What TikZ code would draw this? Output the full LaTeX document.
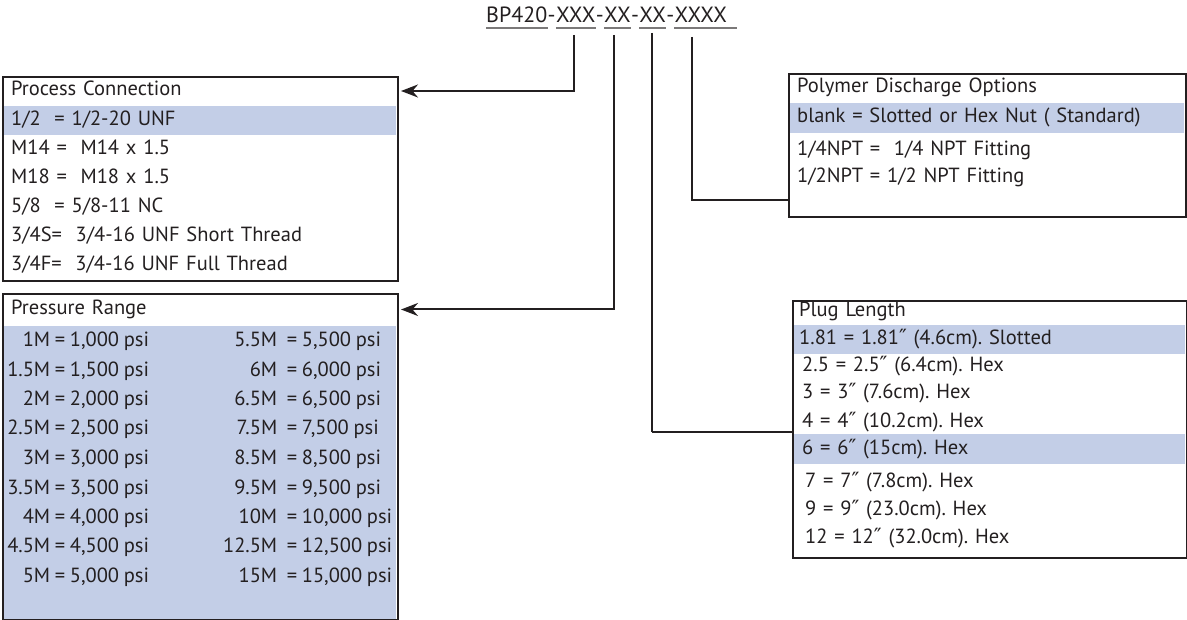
\documentclass[tikz,border=0pt]{standalone}
\usepackage{fontspec}
\setmainfont{PT Sans}[WordSpace=0.85]
\newfontfamily\plugfont{PT Sans}[WordSpace=0.6]
\newfontfamily\markfont{DejaVu Sans}
\usetikzlibrary{arrows.meta,positioning}
\definecolor{ink}{HTML}{231F20}
\definecolor{rowblue}{HTML}{C3CEE7}
\frenchspacing
\newcommand{\pval}[4][0pt]{\makebox[#2][r]{#3}\hspace{#1} = #4}
\newcommand{\inch}{{\markfont\fontsize{21}{24}\selectfont ″}}
\tikzset{
  listframe/.style={draw=ink,line width=2pt,anchor=north west,inner sep=0pt},
  listrow/.style={anchor=west,inner xsep=8pt,inner ysep=0pt,minimum height=29pt,
    text width=#1,align=left,text height=14pt,text depth=4pt,
    font=\fontsize{20.5}{24}\selectfont,text=ink},
  plugrow/.style={listrow=380pt,inner xsep=6pt,font=\plugfont\fontsize{20.5}{24}\selectfont},
  hirow/.style={fill=rowblue},
  prentry/.style={anchor=west,inner sep=0pt,text height=14pt,text depth=4pt,
    font=\fontsize{20.5}{24}\selectfont,text=ink},
  codepart/.style={inner sep=0pt,font=\fontsize{22}{26}\selectfont,text=ink},
  uline/.style={draw=ink!60,line width=1.2pt},
  feed/.style={draw=ink,line width=2pt,-{Stealth[length=17pt,width=13pt]},shorten >=2pt},
  lead/.style={draw=ink,line width=1.2pt}
}
\begin{document}
\begin{tikzpicture}[x=1pt,y=-1pt]
    \useasboundingbox (0,0) rectangle (1187,620);
    % part number
    \node[codepart,anchor=base west] (bp) at (486,23) {BP420};
    \node[codepart,base right=0pt of bp] (d1) {-};
    \node[codepart,base right=0pt of d1] (xa) {XXX};
    \node[codepart,base right=0pt of xa] (d2) {-};
    \node[codepart,base right=0pt of d2] (xb) {XX};
    \node[codepart,base right=0pt of xb] (d3) {-};
    \node[codepart,base right=0pt of d3] (xc) {XX};
    \node[codepart,base right=0pt of xc] (d4) {-};
    \node[codepart,base right=0pt of d4] (xd) {XXXX};
    \draw[uline] ([yshift=-5pt]bp.base west) -- ([yshift=-5pt]bp.base east);
    \draw[uline] ([yshift=-5pt]xa.base west) -- ([yshift=-5pt]xa.base east);
    \draw[uline] ([yshift=-5pt]xb.base west) -- ([yshift=-5pt]xb.base east);
    \draw[uline] ([yshift=-5pt]xc.base west) -- ([yshift=-5pt]xc.base east);
    \draw[uline] ([yshift=-5pt]xd.base west) -- ([shift={(10pt,-5pt)}]xd.base east);

    % process connection
    \node[listrow=377pt] (connhead) at (3,91) {Process Connection};
    \node[listrow=377pt,hirow] (conn1) at (3,120.5) {1/2\ \ = 1/2-20 UNF};
    \node[listrow=377pt] (conn2) at (3,149.5) {M14 =\ \ M14 x 1.5};
    \node[listrow=377pt] (conn3) at (3,178.5) {M18 =\ \ M18 x 1.5};
    \node[listrow=377pt] (conn4) at (3,207.5) {5/8\ \ = 5/8-11 NC};
    \node[listrow=377pt] (conn5) at (3,236.5) {3/4S=\ \ 3/4-16 UNF Short Thread};
    \node[listrow=377pt] (conn6) at (3,265.5) {3/4F=\ \ 3/4-16 UNF Full Thread};
    \node[listframe,minimum width=395pt,minimum height=204pt] (conn) at (2,76) {};

    % pressure range
    \node[fill=rowblue,anchor=north west,inner sep=0pt,minimum width=393pt,minimum height=293pt] (pressbody) at (3,326) {};
    \node[listrow=377pt,minimum height=33pt] (presshead) at (3,309.5) {Pressure Range};
    \node[prentry] (pa1) at (6,342) {\pval{44pt}{1M}{1,000 psi}};
    \node[prentry] (pa2) at (6,371.5) {\pval{44pt}{1.5M}{1,500 psi}};
    \node[prentry] (pa3) at (6,401) {\pval{44pt}{2M}{2,000 psi}};
    \node[prentry] (pa4) at (6,430) {\pval{44pt}{2.5M}{2,500 psi}};
    \node[prentry] (pa5) at (6,459.5) {\pval{44pt}{3M}{3,000 psi}};
    \node[prentry] (pa6) at (6,489) {\pval{44pt}{3.5M}{3,500 psi}};
    \node[prentry] (pa7) at (6,518) {\pval{44pt}{4M}{4,000 psi}};
    \node[prentry] (pa8) at (6,547.5) {\pval{44pt}{4.5M}{4,500 psi}};
    \node[prentry] (pa9) at (6,577) {\pval{44pt}{5M}{5,000 psi}};
    \node[prentry] (pb1) at (217,342) {\pval[5pt]{60pt}{5.5M}{5,500 psi}};
    \node[prentry] (pb2) at (217,371.5) {\pval[5pt]{60pt}{6M}{6,000 psi}};
    \node[prentry] (pb3) at (217,401) {\pval[5pt]{60pt}{6.5M}{6,500 psi}};
    \node[prentry] (pb4) at (217,430) {\pval[5pt]{60pt}{7.5M}{7,500 psi}};
    \node[prentry] (pb5) at (217,459.5) {\pval[5pt]{60pt}{8.5M}{8,500 psi}};
    \node[prentry] (pb6) at (217,489) {\pval[5pt]{60pt}{9.5M}{9,500 psi}};
    \node[prentry] (pb7) at (217,518) {\pval[5pt]{60pt}{10M}{10,000 psi}};
    \node[prentry] (pb8) at (217,547.5) {\pval[5pt]{60pt}{12.5M}{12,500 psi}};
    \node[prentry] (pb9) at (217,577) {\pval[5pt]{60pt}{15M}{15,000 psi}};
    \node[listframe,minimum width=395pt,minimum height=326pt] (press) at (2,293) {};

    % polymer discharge
    \node[listrow=379pt] (polyhead) at (789,88) {Polymer Discharge Options};
    \node[listrow=379pt,hirow,minimum height=30pt] (poly1) at (789,118) {blank = Slotted or Hex Nut ( Standard)};
    \node[listrow=379pt] (poly2) at (789,151) {1/4NPT =\ \ 1/4 NPT Fitting};
    \node[listrow=379pt] (poly3) at (789,178) {1/2NPT = 1/2 NPT Fitting};
    \node[listframe,minimum width=397pt,minimum height=143pt] (poly) at (788,73) {};

    % plug length
    \node[plugrow] (plughead) at (793,312) {Plug Length};
    \node[plugrow,hirow] (plug1) at (793,339.5) {1.81 = 1.81\inch\ (4.6cm). Slotted};
    \node[plugrow] (plug2) at (793,367) {\hspace*{3pt}2.5 = 2.5\inch\ (6.4cm). Hex};
    \node[plugrow] (plug3) at (793,394) {\hspace*{3pt}3 = 3\inch\ (7.6cm). Hex};
    \node[plugrow] (plug4) at (793,423) {\hspace*{3pt}4 = 4\inch\ (10.2cm). Hex};
    \node[plugrow,hirow] (plug5) at (793,449) {\hspace*{3pt}6 = 6\inch\ (15cm). Hex};
    \node[plugrow] (plug6) at (793,482) {\hspace*{6pt}7 = 7\inch\ (7.8cm). Hex};
    \node[plugrow] (plug7) at (793,510) {\hspace*{6pt}9 = 9\inch\ (23.0cm). Hex};
    \node[plugrow] (plug8) at (793,538) {\hspace*{6pt}12 = 12\inch\ (32.0cm). Hex};
    \node[listframe,minimum width=394pt,minimum height=257pt] (plug) at (792,300) {};

    % leaders
    \coordinate (s1) at (574,35);
    \coordinate (s2) at (614,35);
    \coordinate (s3) at (652,33);
    \coordinate (t3) at (652,432);
    \coordinate (s4) at (692,37);
    \coordinate (t4) at (692,200);
    \draw[feed] (s1) |- (conn.east |- connhead);
    \draw[feed] (s2) |- (press.east |- presshead);
    \draw[lead] (s3) -- (t3);
    \draw[draw=ink,line width=2.2pt] (t3) -- (plug.west |- t3);
    \draw[lead] (s4) -- (t4) -- (poly.west |- t4);
\end{tikzpicture}
\end{document}
